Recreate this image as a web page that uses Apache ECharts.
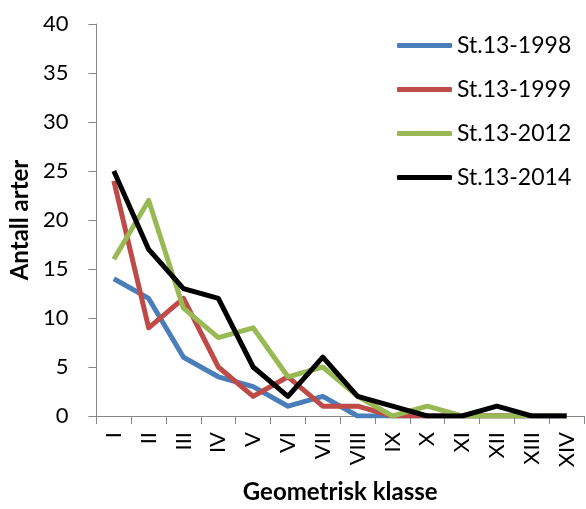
<!DOCTYPE html>
<html>
<head>
<meta charset="utf-8">
<script src="https://cdn.jsdelivr.net/npm/echarts@6/dist/echarts.min.js"></script>
<style>html,body{margin:0;padding:0;background:#fff;}#c{width:586px;height:509px;}</style>
</head>
<body>
<div id="c"></div>
<script>
var categories = ['I','II','III','IV','V','VI','VII','VIII','IX','X','XI','XII','XIII','XIV'];
var seriesNames = ['St.13-1998','St.13-1999','St.13-2012','St.13-2014'];
var s1998 = [14, 12, 6, 4, 3, 1, 2, 0, 0, 0, 0, 0, 0, 0];
var s1999 = [24, 9, 12, 5, 2, 4, 1, 1, 0, 0, 0, 0, 0, 0];
var s2012 = [16, 22, 11, 8, 9, 4, 5, 2, 0, 1, 0, 0, 0, 0];
var s2014 = [25, 17, 13, 12, 5, 2, 6, 2, 1, 0, 0, 1, 0, 0];
var colors = ['#4A7EBB', '#BE4B48', '#98B954', '#000000'];

var FONT = 'Lato';
var chart = echarts.init(document.getElementById('c'), null, {renderer: 'canvas'});
var data = [s1998, s1999, s2012, s2014];
chart.setOption({
  animation: false,
  backgroundColor: '#ffffff',
  grid: {left: 90, right: 2, top: 24, bottom: 87, containLabel: false},
  legend: {
    orient: 'vertical',
    left: 392,
    top: 29,
    itemWidth: 55,
    itemHeight: 5,
    itemGap: 21,
    icon: 'roundRect',
    textStyle: {fontFamily: FONT, fontSize: 23, color: '#000'},
    data: seriesNames
  },
  xAxis: {
    type: 'category',
    data: categories,
    boundaryGap: true,
    name: 'Geometrisk klasse',
    nameLocation: 'middle',
    nameGap: 64,
    nameTextStyle: {fontFamily: FONT, fontSize: 24, fontWeight: 'bold', color: '#000'},
    axisLine: {lineStyle: {color: '#868686', width: 1}},
    axisTick: {show: true, length: 8, lineStyle: {color: '#868686'}},
    axisLabel: {rotate: 90, margin: 16, fontFamily: FONT, fontSize: 22, color: '#000', interval: 0}
  },
  yAxis: {
    type: 'value',
    min: 0, max: 40, interval: 5,
    name: 'Antall arter',
    nameLocation: 'middle',
    nameGap: 52,
    nameTextStyle: {fontFamily: FONT, fontSize: 24, fontWeight: 'bold', color: '#000'},
    axisLine: {show: true, lineStyle: {color: '#868686', width: 1}},
    axisTick: {show: true, length: 8, lineStyle: {color: '#868686'}},
    splitLine: {show: false},
    axisLabel: {margin: 28, fontFamily: FONT, fontSize: 22, color: '#000'}
  },
  series: seriesNames.map(function (n, i) {
    return {
      name: n,
      type: 'line',
      data: data[i],
      symbol: 'none',
      color: colors[i],
      lineStyle: {width: 5, color: colors[i], join: 'round'},
      z: 2 + i
    };
  })
});
</script>
</body>
</html>
